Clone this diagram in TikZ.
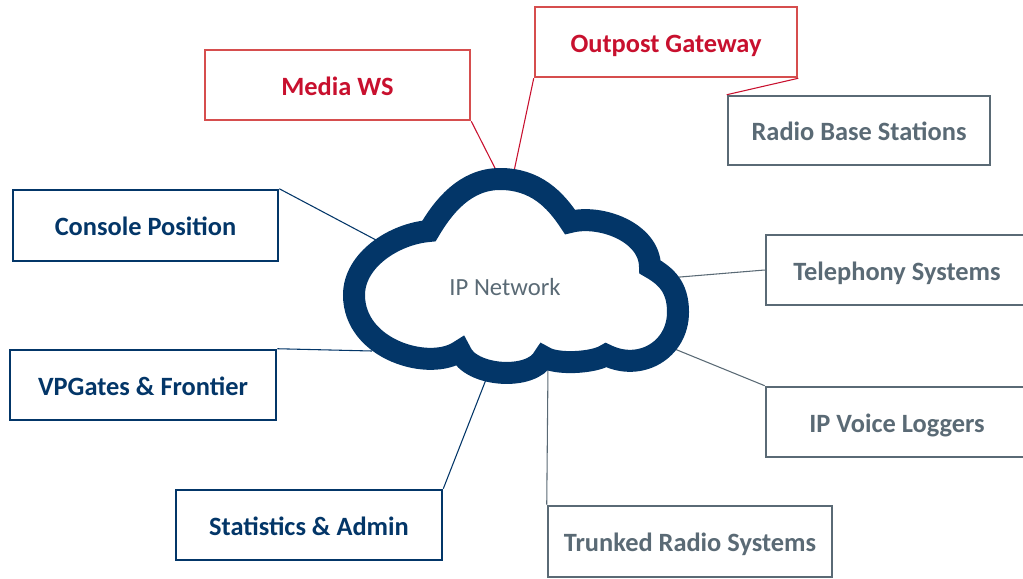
\documentclass[tikz,border=0pt]{standalone}
\usepackage{fontspec}
\setmainfont{Carlito}
\definecolor{navy}{RGB}{3,54,104}
\definecolor{crim}{RGB}{200,16,46}
\definecolor{redb}{RGB}{214,78,78}
\definecolor{slate}{RGB}{90,106,117}
\begin{document}
\begin{tikzpicture}[x=0.75pt,y=-0.75pt,
  box/.style={draw, line width=1.9pt, fill=white, inner sep=0pt,
    text height=15.5pt, text depth=0pt,
    font=\fontsize{19.8pt}{23pt}\selectfont\bfseries},
  navybox/.style={box, draw=navy, text=navy},
  redbox/.style={box, draw=redb, text=crim},
  graybox/.style={box, draw=slate, text=slate},
  navyline/.style={draw=navy, line width=0.8pt},
  redline/.style={draw=crim, line width=0.8pt},
  grayline/.style={draw=slate, line width=0.8pt}]
\useasboundingbox (0,0) rectangle (1023,578);
\clip (0,0) rectangle (1023,578);

\coordinate (cMedia) at (499,176);
\coordinate (cOut) at (513,176);
\coordinate (cCons) at (376,240);
\coordinate (cTel) at (674,277.5);
\coordinate (cVP) at (372,351);
\coordinate (cIPV) at (671,347.5);
\coordinate (cStat) at (487,377);
\coordinate (cTrunk) at (548,366);

\node[redbox, minimum width=198.75pt, minimum height=52.5pt] (media) at (337.5,85) {Media WS};
\node[redbox, minimum width=196.5pt, minimum height=52.5pt] (outpost) at (666,42) {Outpost Gateway};
\node[graybox, minimum width=196.5pt, minimum height=51.75pt] (radio) at (859,130.5) {Radio Base Stations};
\node[navybox, minimum width=198.75pt, minimum height=53.25pt] (console) at (145.5,225.5) {Console Position};
\node[graybox, minimum width=196.5pt, minimum height=52.5pt] (tel) at (897,270) {Telephony Systems};
\node[navybox, minimum width=199.5pt, minimum height=52.5pt] (vp) at (143,385) {VPGates \& Frontier};
\node[graybox, minimum width=196.5pt, minimum height=52.5pt] (ipv) at (897,422) {IP Voice Loggers};
\node[navybox, minimum width=199.5pt, minimum height=52.5pt] (stats) at (309,525) {Statistics \& Admin};
\node[graybox, minimum width=213pt, minimum height=53.25pt] (trunk) at (690,541.5) {Trunked Radio Systems};

% connectors
\draw[redline] (media.south east) -- (cMedia);
\draw[redline] (outpost.south west) -- (cOut);
\draw[redline] (outpost.south east) -- (radio.north west);
\draw[navyline] (console.north east) -- (cCons);
\draw[grayline] (tel.west) -- (cTel);
\draw[navyline] (vp.north east) -- (cVP);
\draw[grayline] (ipv.north west) -- (cIPV);
\draw[navyline] (stats.north east) -- (cStat);
\draw[grayline] (trunk.north west) -- (cTrunk);

% cloud
\draw[navy, line width=16.5pt, line join=miter, miter limit=20]
 (500,179) .. controls (535,179) and (555,199) .. (570,222)
 .. controls (600,214) and (650,232) .. (650,267)
 .. controls (666,276) and (678,287) .. (678,312)
 .. controls (678,350) and (640,372) .. (606,355)
 .. controls (594,363) and (556,365) .. (544,357)
 .. controls (532,381) and (470,377) .. (460,351)
 .. controls (430,372) and (354,350) .. (354,295)
 .. controls (354,260) and (394,234) .. (429,231)
 .. controls (443,207) and (465,179) .. (500,179) -- cycle;
\node[text=slate, font=\fontsize{18.5pt}{22pt}\selectfont] (net) at (505,287) {IP Network};
\end{tikzpicture}
\end{document}
